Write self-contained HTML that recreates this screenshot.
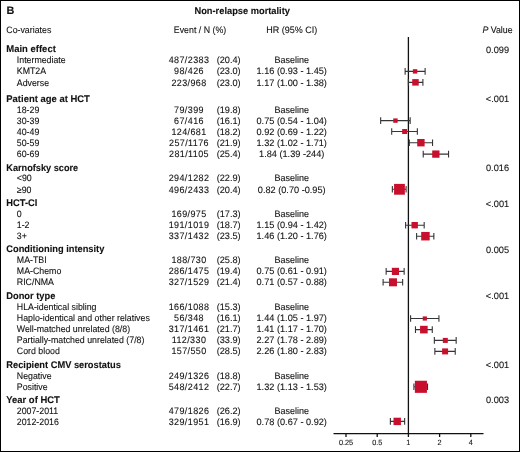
<!DOCTYPE html>
<html><head><meta charset="utf-8"><title>Non-relapse mortality</title>
<style>html,body{margin:0;padding:0;background:#fff;width:520px;height:452px;overflow:hidden}svg{display:block}text{font-family:"Liberation Sans",sans-serif;text-rendering:geometricPrecision;fill:#111;stroke:#111;stroke-width:0.1px}</style></head><body>
<svg width="520" height="452" viewBox="0 0 520 452">
<rect x="0" y="0" width="520" height="452" fill="#fff"/>
<rect x="0.5" y="0.5" width="519" height="451" fill="none" stroke="#000" stroke-width="1"/>
<line x1="408.4" y1="37" x2="408.4" y2="434" stroke="#111" stroke-width="1.3"/>
<line x1="333.5" y1="433.6" x2="483.5" y2="433.6" stroke="#111" stroke-width="1.3"/>
<line x1="346.00" y1="433.6" x2="346.00" y2="437" stroke="#111" stroke-width="1.3"/>
<line x1="377.20" y1="433.6" x2="377.20" y2="437" stroke="#111" stroke-width="1.3"/>
<line x1="408.40" y1="433.6" x2="408.40" y2="437" stroke="#111" stroke-width="1.3"/>
<line x1="439.60" y1="433.6" x2="439.60" y2="437" stroke="#111" stroke-width="1.3"/>
<line x1="470.80" y1="433.6" x2="470.80" y2="437" stroke="#111" stroke-width="1.3"/>
<path d="M405.13 71.40H425.12M405.13 68.10V74.70M425.12 68.10V74.70" stroke="#353535" stroke-width="1.1" fill="none"/>
<rect x="412.88" y="69.20" width="4.4" height="4.4" fill="#c8102e"/>
<path d="M408.40 82.35H422.90M408.40 79.05V85.65M422.90 79.05V85.65" stroke="#353535" stroke-width="1.1" fill="none"/>
<rect x="412.22" y="79.10" width="6.5" height="6.5" fill="#c8102e"/>
<path d="M380.66 120.60H410.17M380.66 117.30V123.90M410.17 117.30V123.90" stroke="#353535" stroke-width="1.1" fill="none"/>
<rect x="393.25" y="118.40" width="4.4" height="4.4" fill="#c8102e"/>
<path d="M391.70 131.50H417.35M391.70 128.20V134.80M417.35 128.20V134.80" stroke="#353535" stroke-width="1.1" fill="none"/>
<rect x="402.15" y="129.00" width="5.0" height="5.0" fill="#c8102e"/>
<path d="M409.29 142.70H432.55M409.29 139.40V146.00M432.55 139.40V146.00" stroke="#353535" stroke-width="1.1" fill="none"/>
<rect x="417.20" y="139.00" width="7.4" height="7.4" fill="#c8102e"/>
<path d="M423.22 154.10H448.55M423.22 150.80V157.40M448.55 150.80V157.40" stroke="#353535" stroke-width="1.1" fill="none"/>
<rect x="432.20" y="150.45" width="7.3" height="7.3" fill="#c8102e"/>
<path d="M392.35 189.30H406.09M392.35 186.00V192.60M406.09 186.00V192.60" stroke="#353535" stroke-width="1.1" fill="none"/>
<rect x="394.07" y="183.90" width="10.8" height="10.8" fill="#c8102e"/>
<path d="M405.61 225.20H424.18M405.61 221.90V228.50M424.18 221.90V228.50" stroke="#353535" stroke-width="1.1" fill="none"/>
<rect x="411.49" y="222.00" width="6.4" height="6.4" fill="#c8102e"/>
<path d="M416.61 236.20H433.85M416.61 232.90V239.50M433.85 232.90V239.50" stroke="#353535" stroke-width="1.1" fill="none"/>
<rect x="421.18" y="231.95" width="8.5" height="8.5" fill="#c8102e"/>
<path d="M386.15 271.40H404.15M386.15 268.10V274.70M404.15 268.10V274.70" stroke="#353535" stroke-width="1.1" fill="none"/>
<rect x="391.85" y="267.80" width="7.2" height="7.2" fill="#c8102e"/>
<path d="M383.10 282.30H402.65M383.10 279.00V285.60M402.65 279.00V285.60" stroke="#353535" stroke-width="1.1" fill="none"/>
<rect x="388.98" y="278.30" width="8.0" height="8.0" fill="#c8102e"/>
<path d="M410.60 318.50H438.92M410.60 315.20V321.80M438.92 315.20V321.80" stroke="#353535" stroke-width="1.1" fill="none"/>
<rect x="422.71" y="316.40" width="4.2" height="4.2" fill="#c8102e"/>
<path d="M415.47 329.60H432.28M415.47 326.30V332.90M432.28 326.30V332.90" stroke="#353535" stroke-width="1.1" fill="none"/>
<rect x="420.07" y="325.80" width="7.6" height="7.6" fill="#c8102e"/>
<path d="M434.35 340.40H456.17M434.35 337.10V343.70M456.17 337.10V343.70" stroke="#353535" stroke-width="1.1" fill="none"/>
<rect x="442.80" y="337.90" width="5.0" height="5.0" fill="#c8102e"/>
<path d="M434.86 351.40H455.23M434.86 348.10V354.70M455.23 348.10V354.70" stroke="#353535" stroke-width="1.1" fill="none"/>
<rect x="442.10" y="348.40" width="6.0" height="6.0" fill="#c8102e"/>
<path d="M413.90 386.80H427.54M413.90 383.50V390.10M427.54 383.50V390.10" stroke="#353535" stroke-width="1.1" fill="none"/>
<rect x="414.85" y="380.75" width="12.1" height="12.1" fill="#c8102e"/>
<path d="M390.37 421.40H404.65M390.37 418.10V424.70M404.65 418.10V424.70" stroke="#353535" stroke-width="1.1" fill="none"/>
<rect x="393.52" y="417.70" width="7.4" height="7.4" fill="#c8102e"/>
<defs><filter id="gs" x="0" y="0" width="100%" height="100%"><feColorMatrix type="saturate" values="0"/></filter></defs>
<g filter="url(#gs)">
<text x="6.5" y="14.3" font-size="10.9" font-weight="bold">B</text>
<text transform="translate(242.2 13.5) scale(0.9588 1)" font-size="9.7" font-weight="bold" text-anchor="middle">Non-relapse mortality</text>
<text transform="translate(6.3 32.7) scale(0.9462 1)" font-size="9.3">Co-variates</text>
<text transform="translate(200 33) scale(0.9462 1)" font-size="9.3" text-anchor="middle">Event / N (%)</text>
<text transform="translate(291.7 33) scale(0.9677 1)" font-size="9.3" text-anchor="middle">HR (95% CI)</text>
<text transform="translate(497.5 32.9) scale(0.9462 1)" font-size="9.3" text-anchor="middle"><tspan font-style="italic">P</tspan> Value</text>
<text transform="translate(346.0 445) scale(0.9605 1)" font-size="7.6" text-anchor="middle">0.25</text>
<text transform="translate(377.2 445) scale(0.9605 1)" font-size="7.6" text-anchor="middle">0.5</text>
<text transform="translate(408.4 445) scale(0.9605 1)" font-size="7.6" text-anchor="middle">1</text>
<text transform="translate(439.6 445) scale(0.9605 1)" font-size="7.6" text-anchor="middle">2</text>
<text transform="translate(470.8 445) scale(0.9605 1)" font-size="7.6" text-anchor="middle">4</text>
<text transform="translate(6.3 52.4) scale(0.9784 1)" font-size="9.7" font-weight="bold">Main effect</text>
<text transform="translate(497.5 52.7) scale(0.9840 1)" font-size="9.4" text-anchor="middle">0.099</text>
<text transform="translate(16.8 63.4) scale(0.9462 1)" font-size="9.3">Intermediate</text>
<text transform="translate(189.0 63.4) scale(0.9574 1)" font-size="9.4" text-anchor="middle" letter-spacing="0.418">487/2383</text>
<text transform="translate(228.7 63.4) scale(0.9787 1)" font-size="9.4" text-anchor="middle">(20.4)</text>
<text transform="translate(291.7 63.4) scale(0.9574 1)" font-size="9.4" text-anchor="middle">Baseline</text>
<text transform="translate(16.8 74.25) scale(0.9462 1)" font-size="9.3">KMT2A</text>
<text transform="translate(189.0 74.25) scale(0.9574 1)" font-size="9.4" text-anchor="middle" letter-spacing="0.418">98/426</text>
<text transform="translate(228.7 74.25) scale(0.9787 1)" font-size="9.4" text-anchor="middle">(23.0)</text>
<text transform="translate(291.7 74.25) scale(0.9787 1)" font-size="9.4" text-anchor="middle">1.16 (0.93 - 1.45)</text>
<text transform="translate(16.8 85.6) scale(0.9462 1)" font-size="9.3">Adverse</text>
<text transform="translate(189.0 85.6) scale(0.9574 1)" font-size="9.4" text-anchor="middle" letter-spacing="0.418">223/968</text>
<text transform="translate(228.7 85.6) scale(0.9787 1)" font-size="9.4" text-anchor="middle">(23.0)</text>
<text transform="translate(291.7 85.6) scale(0.9787 1)" font-size="9.4" text-anchor="middle">1.17 (1.00 - 1.38)</text>
<text transform="translate(6.3 101.8) scale(0.9763 1)" font-size="9.7" font-weight="bold">Patient age at HCT</text>
<text transform="translate(497.5 102.1) scale(0.9840 1)" font-size="9.4" text-anchor="middle">&lt;.001</text>
<text transform="translate(16.8 112.6) scale(0.9462 1)" font-size="9.3">18-29</text>
<text transform="translate(189.0 112.6) scale(0.9574 1)" font-size="9.4" text-anchor="middle" letter-spacing="0.418">79/399</text>
<text transform="translate(228.7 112.6) scale(0.9787 1)" font-size="9.4" text-anchor="middle">(19.8)</text>
<text transform="translate(291.7 112.6) scale(0.9574 1)" font-size="9.4" text-anchor="middle">Baseline</text>
<text transform="translate(16.8 123.5) scale(0.9462 1)" font-size="9.3">30-39</text>
<text transform="translate(189.0 123.5) scale(0.9574 1)" font-size="9.4" text-anchor="middle" letter-spacing="0.418">67/416</text>
<text transform="translate(228.7 123.5) scale(0.9787 1)" font-size="9.4" text-anchor="middle">(16.1)</text>
<text transform="translate(291.7 123.5) scale(0.9787 1)" font-size="9.4" text-anchor="middle">0.75 (0.54 - 1.04)</text>
<text transform="translate(16.8 134.6) scale(0.9462 1)" font-size="9.3">40-49</text>
<text transform="translate(189.0 134.6) scale(0.9574 1)" font-size="9.4" text-anchor="middle" letter-spacing="0.418">124/681</text>
<text transform="translate(228.7 134.6) scale(0.9787 1)" font-size="9.4" text-anchor="middle">(18.2)</text>
<text transform="translate(291.7 134.6) scale(0.9787 1)" font-size="9.4" text-anchor="middle">0.92 (0.69 - 1.22)</text>
<text transform="translate(16.8 145.8) scale(0.9462 1)" font-size="9.3">50-59</text>
<text transform="translate(189.0 145.8) scale(0.9574 1)" font-size="9.4" text-anchor="middle" letter-spacing="0.418">257/1176</text>
<text transform="translate(228.7 145.8) scale(0.9787 1)" font-size="9.4" text-anchor="middle">(21.9)</text>
<text transform="translate(291.7 145.8) scale(0.9787 1)" font-size="9.4" text-anchor="middle">1.32 (1.02 - 1.71)</text>
<text transform="translate(16.8 157.1) scale(0.9462 1)" font-size="9.3">60-69</text>
<text transform="translate(189.0 157.1) scale(0.9574 1)" font-size="9.4" text-anchor="middle" letter-spacing="0.418">281/1105</text>
<text transform="translate(228.7 157.1) scale(0.9787 1)" font-size="9.4" text-anchor="middle">(25.4)</text>
<text transform="translate(291.7 157.1) scale(0.9787 1)" font-size="9.4" text-anchor="middle">1.84 (1.39 -244)</text>
<text transform="translate(6.3 170.7) scale(0.9464 1)" font-size="9.7" font-weight="bold">Karnofsky score</text>
<text transform="translate(497.5 171.0) scale(0.9840 1)" font-size="9.4" text-anchor="middle">0.016</text>
<text transform="translate(16.8 181.2) scale(0.9462 1)" font-size="9.3">&lt;90</text>
<text transform="translate(189.0 181.2) scale(0.9574 1)" font-size="9.4" text-anchor="middle" letter-spacing="0.418">294/1282</text>
<text transform="translate(228.7 181.2) scale(0.9787 1)" font-size="9.4" text-anchor="middle">(22.9)</text>
<text transform="translate(291.7 181.2) scale(0.9574 1)" font-size="9.4" text-anchor="middle">Baseline</text>
<text transform="translate(16.8 192.8) scale(0.9462 1)" font-size="9.3">≥90</text>
<text transform="translate(189.0 192.8) scale(0.9574 1)" font-size="9.4" text-anchor="middle" letter-spacing="0.418">496/2433</text>
<text transform="translate(228.7 192.8) scale(0.9787 1)" font-size="9.4" text-anchor="middle">(20.4)</text>
<text transform="translate(291.7 192.8) scale(0.9787 1)" font-size="9.4" text-anchor="middle">0.82 (0.70 -0.95)</text>
<text transform="translate(6.3 206.3) scale(0.9588 1)" font-size="9.7" font-weight="bold">HCT-CI</text>
<text transform="translate(497.5 206.6) scale(0.9840 1)" font-size="9.4" text-anchor="middle">&lt;.001</text>
<text transform="translate(16.8 216.9) scale(0.9462 1)" font-size="9.3">0</text>
<text transform="translate(189.0 216.9) scale(0.9574 1)" font-size="9.4" text-anchor="middle" letter-spacing="0.418">169/975</text>
<text transform="translate(228.7 216.9) scale(0.9787 1)" font-size="9.4" text-anchor="middle">(17.3)</text>
<text transform="translate(291.7 216.9) scale(0.9574 1)" font-size="9.4" text-anchor="middle">Baseline</text>
<text transform="translate(16.8 227.9) scale(0.9462 1)" font-size="9.3">1-2</text>
<text transform="translate(189.0 227.9) scale(0.9574 1)" font-size="9.4" text-anchor="middle" letter-spacing="0.418">191/1019</text>
<text transform="translate(228.7 227.9) scale(0.9787 1)" font-size="9.4" text-anchor="middle">(18.7)</text>
<text transform="translate(291.7 227.9) scale(0.9787 1)" font-size="9.4" text-anchor="middle">1.15 (0.94 - 1.42)</text>
<text transform="translate(16.8 239.2) scale(0.9462 1)" font-size="9.3">3+</text>
<text transform="translate(189.0 239.2) scale(0.9574 1)" font-size="9.4" text-anchor="middle" letter-spacing="0.418">337/1432</text>
<text transform="translate(228.7 239.2) scale(0.9787 1)" font-size="9.4" text-anchor="middle">(23.5)</text>
<text transform="translate(291.7 239.2) scale(0.9787 1)" font-size="9.4" text-anchor="middle">1.46 (1.20 - 1.76)</text>
<text transform="translate(6.3 252.4) scale(0.9588 1)" font-size="9.7" font-weight="bold">Conditioning intensity</text>
<text transform="translate(497.5 252.7) scale(0.9840 1)" font-size="9.4" text-anchor="middle">0.005</text>
<text transform="translate(16.8 263.4) scale(0.9462 1)" font-size="9.3">MA-TBI</text>
<text transform="translate(189.0 263.4) scale(0.9574 1)" font-size="9.4" text-anchor="middle" letter-spacing="0.418">188/730</text>
<text transform="translate(228.7 263.4) scale(0.9787 1)" font-size="9.4" text-anchor="middle">(25.8)</text>
<text transform="translate(291.7 263.4) scale(0.9574 1)" font-size="9.4" text-anchor="middle">Baseline</text>
<text transform="translate(16.8 274.3) scale(0.9462 1)" font-size="9.3">MA-Chemo</text>
<text transform="translate(189.0 274.3) scale(0.9574 1)" font-size="9.4" text-anchor="middle" letter-spacing="0.418">286/1475</text>
<text transform="translate(228.7 274.3) scale(0.9787 1)" font-size="9.4" text-anchor="middle">(19.4)</text>
<text transform="translate(291.7 274.3) scale(0.9787 1)" font-size="9.4" text-anchor="middle">0.75 (0.61 - 0.91)</text>
<text transform="translate(16.8 285.2) scale(0.9462 1)" font-size="9.3">RIC/NMA</text>
<text transform="translate(189.0 285.2) scale(0.9574 1)" font-size="9.4" text-anchor="middle" letter-spacing="0.418">327/1529</text>
<text transform="translate(228.7 285.2) scale(0.9787 1)" font-size="9.4" text-anchor="middle">(21.4)</text>
<text transform="translate(291.7 285.2) scale(0.9787 1)" font-size="9.4" text-anchor="middle">0.71 (0.57 - 0.88)</text>
<text transform="translate(6.3 299.0) scale(0.9588 1)" font-size="9.7" font-weight="bold">Donor type</text>
<text transform="translate(497.5 299.3) scale(0.9840 1)" font-size="9.4" text-anchor="middle">&lt;.001</text>
<text transform="translate(16.8 309.5) scale(0.9462 1)" font-size="9.3">HLA-identical sibling</text>
<text transform="translate(189.0 309.5) scale(0.9574 1)" font-size="9.4" text-anchor="middle" letter-spacing="0.418">166/1088</text>
<text transform="translate(228.7 309.5) scale(0.9787 1)" font-size="9.4" text-anchor="middle">(15.3)</text>
<text transform="translate(291.7 309.5) scale(0.9574 1)" font-size="9.4" text-anchor="middle">Baseline</text>
<text transform="translate(16.8 320.7) scale(0.9462 1)" font-size="9.3">Haplo-identical and other relatives</text>
<text transform="translate(189.0 320.7) scale(0.9574 1)" font-size="9.4" text-anchor="middle" letter-spacing="0.418">56/348</text>
<text transform="translate(228.7 320.7) scale(0.9787 1)" font-size="9.4" text-anchor="middle">(16.1)</text>
<text transform="translate(291.7 320.7) scale(0.9787 1)" font-size="9.4" text-anchor="middle">1.44 (1.05 - 1.97)</text>
<text transform="translate(16.8 331.6) scale(0.9462 1)" font-size="9.3">Well-matched unrelated (8/8)</text>
<text transform="translate(189.0 331.6) scale(0.9574 1)" font-size="9.4" text-anchor="middle" letter-spacing="0.418">317/1461</text>
<text transform="translate(228.7 331.6) scale(0.9787 1)" font-size="9.4" text-anchor="middle">(21.7)</text>
<text transform="translate(291.7 331.6) scale(0.9787 1)" font-size="9.4" text-anchor="middle">1.41 (1.17 - 1.70)</text>
<text transform="translate(16.8 343.1) scale(0.9462 1)" font-size="9.3">Partially-matched unrelated (7/8)</text>
<text transform="translate(189.0 343.1) scale(0.9574 1)" font-size="9.4" text-anchor="middle" letter-spacing="0.418">112/330</text>
<text transform="translate(228.7 343.1) scale(0.9787 1)" font-size="9.4" text-anchor="middle">(33.9)</text>
<text transform="translate(291.7 343.1) scale(0.9787 1)" font-size="9.4" text-anchor="middle">2.27 (1.78 - 2.89)</text>
<text transform="translate(16.8 353.9) scale(0.9462 1)" font-size="9.3">Cord blood</text>
<text transform="translate(189.0 353.9) scale(0.9574 1)" font-size="9.4" text-anchor="middle" letter-spacing="0.418">157/550</text>
<text transform="translate(228.7 353.9) scale(0.9787 1)" font-size="9.4" text-anchor="middle">(28.5)</text>
<text transform="translate(291.7 353.9) scale(0.9787 1)" font-size="9.4" text-anchor="middle">2.26 (1.80 - 2.83)</text>
<text transform="translate(6.3 367.7) scale(0.9588 1)" font-size="9.7" font-weight="bold">Recipient CMV serostatus</text>
<text transform="translate(497.5 368.0) scale(0.9840 1)" font-size="9.4" text-anchor="middle">&lt;.001</text>
<text transform="translate(16.8 378.6) scale(0.9462 1)" font-size="9.3">Negative</text>
<text transform="translate(189.0 378.6) scale(0.9574 1)" font-size="9.4" text-anchor="middle" letter-spacing="0.418">249/1326</text>
<text transform="translate(228.7 378.6) scale(0.9787 1)" font-size="9.4" text-anchor="middle">(18.8)</text>
<text transform="translate(291.7 378.6) scale(0.9574 1)" font-size="9.4" text-anchor="middle">Baseline</text>
<text transform="translate(16.8 389.6) scale(0.9462 1)" font-size="9.3">Positive</text>
<text transform="translate(189.0 389.6) scale(0.9574 1)" font-size="9.4" text-anchor="middle" letter-spacing="0.418">548/2412</text>
<text transform="translate(228.7 389.6) scale(0.9787 1)" font-size="9.4" text-anchor="middle">(22.7)</text>
<text transform="translate(291.7 389.6) scale(0.9787 1)" font-size="9.4" text-anchor="middle">1.32 (1.13 - 1.53)</text>
<text transform="translate(6.3 402.8) scale(0.9742 1)" font-size="9.7" font-weight="bold">Year of HCT</text>
<text transform="translate(497.5 403.1) scale(0.9840 1)" font-size="9.4" text-anchor="middle">0.003</text>
<text transform="translate(16.8 413.6) scale(0.9462 1)" font-size="9.3">2007-2011</text>
<text transform="translate(189.0 413.6) scale(0.9574 1)" font-size="9.4" text-anchor="middle" letter-spacing="0.418">479/1826</text>
<text transform="translate(228.7 413.6) scale(0.9787 1)" font-size="9.4" text-anchor="middle">(26.2)</text>
<text transform="translate(291.7 413.6) scale(0.9574 1)" font-size="9.4" text-anchor="middle">Baseline</text>
<text transform="translate(16.8 424.6) scale(0.9462 1)" font-size="9.3">2012-2016</text>
<text transform="translate(189.0 424.6) scale(0.9574 1)" font-size="9.4" text-anchor="middle" letter-spacing="0.418">329/1951</text>
<text transform="translate(228.7 424.6) scale(0.9787 1)" font-size="9.4" text-anchor="middle">(16.9)</text>
<text transform="translate(291.7 424.6) scale(0.9787 1)" font-size="9.4" text-anchor="middle">0.78 (0.67 - 0.92)</text>
</g>
</svg></body></html>
